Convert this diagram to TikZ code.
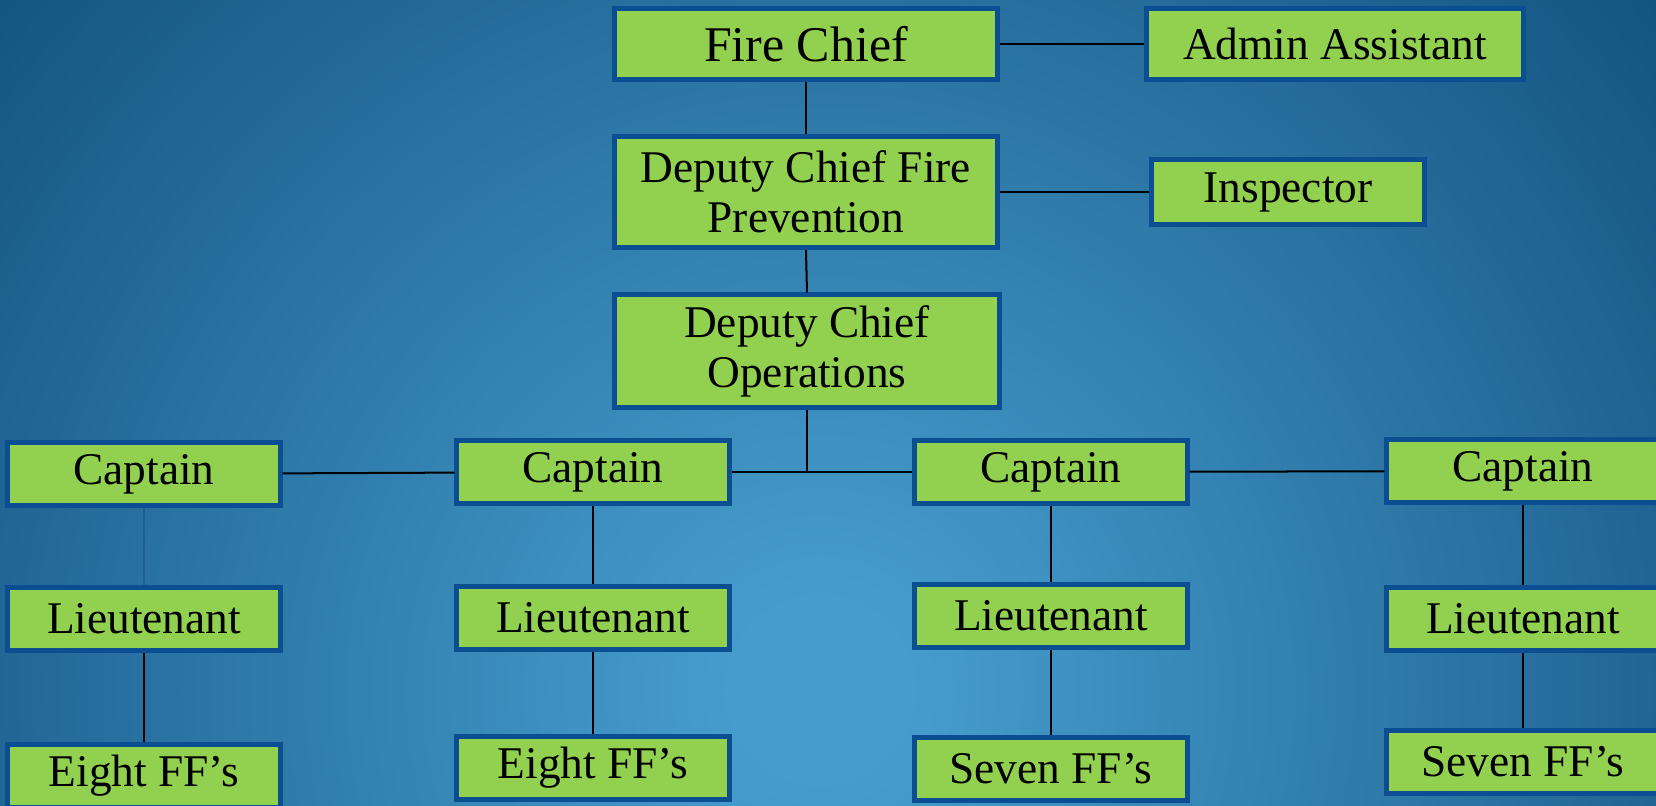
\documentclass[tikz,border=0pt]{standalone}
\usepackage{fontspec}
\setmainfont{Liberation Serif}
\usetikzlibrary{calc}

\definecolor{boxgreen}{HTML}{92D050}
\definecolor{boxedge}{HTML}{0B4E92}
\definecolor{bginner}{HTML}{469DCD}
\definecolor{bgouter}{HTML}{145482}
\definecolor{thinblue}{HTML}{1F5F95}

\pgfdeclareradialshading{bgglow}{\pgfpoint{0bp}{0bp}}{%
  color(0bp)=(bginner); color(2bp)=(bginner); color(25bp)=(bgouter); color(50bp)=(bgouter)}

\begin{document}
\begin{tikzpicture}[x=0.01cm, y=-0.01cm,
  rank/.style={draw=boxedge, line width=0.05cm, fill=boxgreen, inner sep=0pt,
    align=center, minimum width=2.72cm, minimum height=0.63cm,
    font=\fontsize{12.9}{14.2}\selectfont},
  link/.style={line width=0.02cm, black}]

  \useasboundingbox (0,0) rectangle (1656,806);
  \clip (0,0) rectangle (1656,806);
  \fill[bgouter] (0,0) rectangle (1656,806);
  \shade[shading=bgglow] (820,690) circle (10.8cm);

  % top of the chart
  \node[rank, minimum width=3.82cm, minimum height=0.71cm,
    font=\fontsize{14.2}{16}\selectfont] (chief) at (806,44) {Fire Chief};
  \node[rank, minimum width=3.77cm, minimum height=0.71cm] (admin) at (1335,44) {Admin Assistant};
  \node[rank, minimum width=3.82cm, minimum height=1.11cm] (prev) at (806,192) {Deputy Chief Fire\\Prevention};
  \node[rank, minimum height=0.64cm] (insp) at (1288,192) {Inspector};
  \node[rank, minimum width=3.84cm, minimum height=1.12cm] (ops) at (807,351) {Deputy Chief\\Operations};

  % captains
  \node[rank] (cap1) at (144,474) {Captain};
  \node[rank] (cap2) at (593,472) {Captain};
  \node[rank] (cap3) at (1051,472) {Captain};
  \node[rank] (cap4) at (1523,471) {Captain};

  % lieutenants
  \node[rank] (lt1) at (144,619) {Lieutenant};
  \node[rank] (lt2) at (593,618) {Lieutenant};
  \node[rank] (lt3) at (1051,616) {Lieutenant};
  \node[rank] (lt4) at (1523,619) {Lieutenant};

  % crews
  \node[rank] (ff1) at (144,776) {Eight FF’s};
  \node[rank] (ff2) at (593,768) {Eight FF’s};
  \node[rank] (ff3) at (1051,769) {Seven FF’s};
  \node[rank] (ff4) at (1523,762) {Seven FF’s};

  \draw[link] (chief) -- (admin);
  \draw[link] (chief) -- (prev);
  \draw[link] (prev) -- (insp);
  \draw[link] (prev.south) -- (ops.north);
  \draw[link] (ops.south) -- (ops.south |- cap2.east);
  \draw[link] (cap1) -- (cap2);
  \draw[link] (cap2) -- (cap3);
  \draw[link] (cap3) -- (cap4);

  \draw[link, thinblue] (cap1) -- (lt1);
  \draw[link] (cap2) -- (lt2);
  \draw[link] (cap3) -- (lt3);
  \draw[link] (cap4) -- (lt4);
  \draw[link] (lt1) -- (ff1);
  \draw[link] (lt2) -- (ff2);
  \draw[link] (lt3) -- (ff3);
  \draw[link] (lt4) -- (ff4);

\end{tikzpicture}
\end{document}
